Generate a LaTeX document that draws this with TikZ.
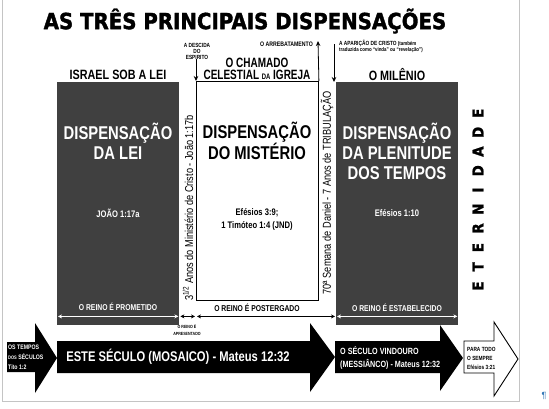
\documentclass[tikz,border=0pt]{standalone}
\usepackage{fontspec}
\setmainfont{Liberation Sans}
\newfontfamily\narrow{Liberation Sans}[FakeStretch=0.8]
\newfontfamily\slimhead{Liberation Sans}[FakeStretch=0.74]
\newfontfamily\heavy{DejaVu Sans}[FakeStretch=0.89, FakeBold=1.6]
\usetikzlibrary{arrows.meta,positioning,calc}
\definecolor{boxgray}{HTML}{404040}
\definecolor{framegray}{HTML}{C4C4C4}
\definecolor{markblue}{HTML}{2E75B6}
\tikzset{
  darkbox/.style={fill=boxgray, draw=none, anchor=north west, minimum width=122pt, minimum height=243pt, inner sep=0pt},
  lightbox/.style={draw=black, line width=0.9pt, fill=white, anchor=north west, minimum width=122pt, minimum height=219pt, inner sep=0pt},
  title/.style={font=\heavy\bfseries\fontsize{22.2}{22}\selectfont, inner sep=0pt},
  heading/.style={font=\narrow\bfseries\fontsize{13.5}{12.5}\selectfont, align=center, inner sep=0pt},
  boxtitle/.style={font=\narrow\bfseries\fontsize{18.5}{20}\selectfont, align=center, inner sep=0pt},
  boxref/.style={font=\narrow\bfseries\fontsize{9.5}{13}\selectfont, align=center, inner sep=0pt},
  reino/.style={font=\narrow\bfseries\fontsize{8.5}{9}\selectfont, inner sep=0pt},
  tiny/.style={font=\narrow\bfseries\fontsize{6}{6}\selectfont, align=center, inner sep=0pt},
  sidetext/.style={font=\narrow\fontsize{11.5}{12}\selectfont, rotate=90, inner sep=0pt},
  eterletter/.style={font=\heavy\bfseries\fontsize{15}{15}\selectfont, rotate=90, inner sep=0pt},
  arrowtext/.style={font=\narrow\bfseries\fontsize{6.5}{10}\selectfont, align=left, anchor=west, inner sep=0pt},
  varrow/.style={-{Stealth[length=5pt, width=4.5pt]}, line width=0.8pt},
  span/.style={{Stealth[length=4pt, width=4pt]}-{Stealth[length=4pt, width=4pt]}, line width=0.7pt},
  blockarrow/.style={fill=black}
}

\begin{document}
\begin{tikzpicture}[x=1pt, y=-1pt]
  \useasboundingbox (0,0) rectangle (549,408);

  % page frame
  \draw[framegray, line width=0.8pt] (2,0) -- (2,401) -- (519,401) -- (519,0);
  \node[text=markblue, font=\fontsize{9}{9}\selectfont, inner sep=0pt] (pilcrow) at (544,396) {¶};

  \node[title] (title) at (245,21) {AS TRÊS PRINCIPAIS DISPENSAÇÕES};

  % the three dispensations
  \node[darkbox] (lei) at (57,82) {};
  \node[lightbox] (misterio) at (196,81) {};
  \node[darkbox] (plenitude) at (336,82) {};

  \node[heading] (israel) at (118,75) {ISRAEL SOB A LEI};
  \node[heading, font=\slimhead\bfseries\fontsize{13.5}{12.5}\selectfont] (chamado) at (257,69) {O CHAMADO\\CELESTIAL {\fontsize{8}{8}\selectfont DA} IGREJA};
  \node[heading] (milenio) at (397,75) {O MILÊNIO};

  \node[tiny] (descida) at (197,51) {A DESCIDA\\DO\\ESPIRITO};
  \node[tiny, anchor=east, font=\narrow\bfseries\fontsize{6.5}{6.5}\selectfont] (arrebat) at (313,44) {O ARREBATAMENTO};
  \node[tiny, align=left, anchor=north west] (aparicao) at (339,40)
    {A APARIÇÃO DE CRISTO {\fontsize{5.5}{6}\selectfont (também}\\{\fontsize{5.5}{6}\selectfont traduzida como “vinda” ou “revelação”)}};

  \coordinate (arrebtip) at (318,41);
  \coordinate (apartop) at (334,44);
  \draw[varrow] (descida.south -| misterio.west) -- (misterio.north west);
  \draw[line width=0.9pt] (misterio.south west) -- ([yshift=22pt]misterio.south west);
  \draw[varrow] (misterio.north east) -- (arrebtip);
  \draw[varrow] (apartop) -- (apartop |- plenitude.north);

  \node[boxtitle, text=white] (leititle) at (118,141) {DISPENSAÇÃO\\DA LEI};
  \node[boxref, text=white] (leiref) at (118,213) {JOÃO 1:17a};
  \node[boxtitle] (misttitle) at (257,141) {DISPENSAÇÃO\\DO MISTÉRIO};
  \node[boxref] (mistref) at (257,219) {Efésios 3:9;\\1 Timóteo 1:4 (JND)};
  \node[boxtitle, text=white] (plentitle) at (397,151) {DISPENSAÇÃO\\DA PLENITUDE\\DOS TEMPOS};
  \node[boxref, text=white] (plenref) at (397,213) {Efésios 1:10};

  \node[sidetext] (ministerio) at (188,208) {3\textsuperscript{1/2} Anos do Ministério de Cristo - João 1:17b};
  \node[sidetext] (semana) at (327,193) {70ª Semana de Daniel - 7 Anos de TRIBULAÇÃO};

  \foreach \l [count=\i] in {E,T,E,R,N,I,D,A,D,E}
    \node[eterletter] (eter\i) at (478,{286-(\i-1)*19.2}) {\l};

  % the kingdom
  \node[reino, text=white] (prometido) at (118,307) {O REINO É PROMETIDO};
  \node[reino] (postergado) at (257,308) {O REINO É POSTERGADO};
  \node[reino, text=white] (estabelecido) at (397,308) {O REINO É ESTABELECIDO};
  \node[tiny, font=\narrow\bfseries\fontsize{4.5}{7}\selectfont] (apresentado) at (187,330) {O REINO É\\APRESENTADO};

  \draw[span, white] ([shift={(1,-9)}]lei.south west) -- ([shift={(-1,-9)}]lei.south east);
  \draw[span] ([shift={(1,-9)}]lei.south east) -- ([shift={(-1,-9)}]misterio.south west |- lei.south);
  \draw[span] ([shift={(1,-9)}]misterio.south west |- lei.south) -- ([shift={(-1,-9)}]plenitude.south west);
  \draw[span, white] ([shift={(1,-9)}]plenitude.south west) -- ([shift={(-1,-9)}]plenitude.south east);

  % the ages
  \fill[blockarrow] (7,342) -- (35,342) -- (35,323) -- (57,358) -- (35,393) -- (35,372) -- (7,372) -- cycle;
  \fill[blockarrow] (57,341) -- (310,341) -- (310,323) -- (335,357) -- (310,392) -- (310,373) -- (57,373) -- cycle;
  \fill[blockarrow] (335,341) -- (440,341) -- (440,325) -- (463,358) -- (440,391) -- (440,373) -- (335,373) -- cycle;
  \draw[blockarrow, fill=white, line width=0.9pt] (464,341) -- (494,341) -- (494,322) -- (518,359) -- (494,396) -- (494,373) -- (464,373) -- cycle;

  \node[arrowtext, text=white] (tempos) at (8,357) {OS TEMPOS\\{\fontsize{5}{5}\selectfont DOS} SÉCULOS\\Tito 1:2};
  \node[heading, text=white, font=\narrow\bfseries\fontsize{14}{14}\selectfont] (este) at (178,357) {ESTE SÉCULO (MOSAICO) - Mateus 12:32};
  \node[arrowtext, text=white, font=\narrow\bfseries\fontsize{9}{13}\selectfont] (vindouro) at (340,358) {O SÉCULO VINDOURO\\(MESSIÂNCO) - Mateus 12:32};
  \node[arrowtext, font=\narrow\bfseries\fontsize{6}{9}\selectfont] (sempre) at (467,358) {PARA TODO\\O SEMPRE\\Efésios 3:21};
\end{tikzpicture}
\end{document}
